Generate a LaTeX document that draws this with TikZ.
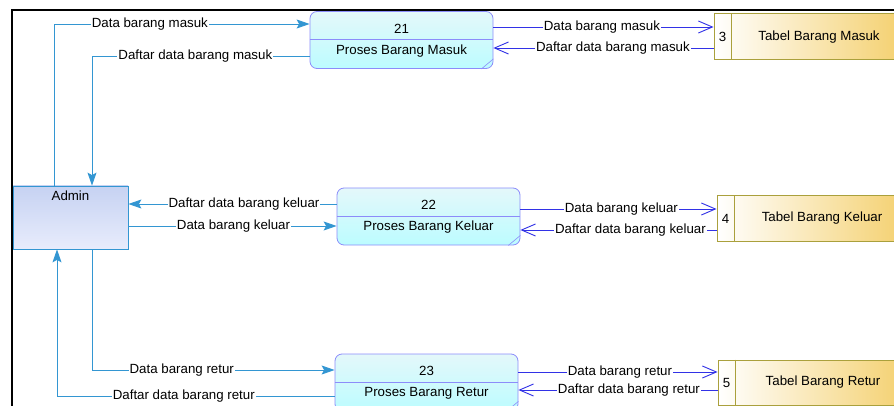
\documentclass[tikz,border=0pt]{standalone}
\usepackage{fontspec}
\setmainfont{Liberation Sans}
\usetikzlibrary{arrows.meta,calc}

\definecolor{admline}{RGB}{51,150,210}
\definecolor{admtop}{RGB}{198,210,242}
\definecolor{admbot}{RGB}{232,236,252}
\definecolor{procline}{RGB}{140,140,250}
\definecolor{proctop}{RGB}{228,248,250}
\definecolor{procbot}{RGB}{188,252,255}
\definecolor{storeline}{RGB}{170,160,60}
\definecolor{storegold}{RGB}{244,208,110}
\definecolor{storemid}{RGB}{250,232,180}
\definecolor{dsline}{RGB}{50,50,230}

\begin{document}
\begin{tikzpicture}[x=1pt,y=-1pt,
    font=\fontsize{13.3}{15}\selectfont,
    proc/.style={draw=procline,line width=0.8pt,rounded corners=7pt,
      minimum width=183pt,minimum height=57pt,top color=proctop,bottom color=procbot},
    store/.style={draw=storeline,line width=1pt,minimum width=190pt,minimum height=46pt,
      left color=white,middle color=storemid,right color=storegold},
    ent/.style={draw=admline,line width=0.8pt,minimum width=115pt,minimum height=63pt,
      top color=admtop,bottom color=admbot},
    lbl/.style={fill=white,inner sep=1pt},
    aflow/.style={draw=admline,line width=0.9pt,-{Stealth[length=13pt,width=9pt,inset=2.5pt]}},
    dflow/.style={draw=dsline,line width=0.9pt,-{Straight Barb[length=14pt,width=12pt]}}]
  \useasboundingbox (0,0) rectangle (894,406);
  \clip (0,0) rectangle (894,406);

  \draw[line width=1.5pt] (894,10) -- (12,10) -- (12,406);

  % external entity
  \node[ent] (admin) at (70.5,217.5) {};
  \node (admt) at ($(admin.north)+(0,10)$) {Admin};

  % processes
  \node[proc] (p1) at (401.5,40) {};
  \node[proc] (p2) at (428.5,216.5) {};
  \node[proc] (p3) at (426.5,382.5) {};
  \foreach \p/\n/\t in {p1/21/Masuk,p2/22/Keluar,p3/23/Retur}{
    \draw[procline,line width=0.8pt] ($(\p.north west)+(0,28.5)$) -- ($(\p.north east)+(0,28.5)$);
    \draw[procline,line width=0.6pt] ($(\p.south east)+(-12,0)$) -- ($(\p.south east)+(0,-10)$);
    \node (\p n) at ($(\p.north)+(0,17.5)$) {\n};
    \node (\p t) at ($(\p.north)+(0,39.5)$) {Proses Barang \t};
  }

  % data stores
  \node[store] (t1) at (809,37) {};
  \node[store,minimum height=45pt] (t2) at (812,218.5) {};
  \node[store,minimum height=45pt] (t3) at (813,382.5) {};
  \foreach \s/\n/\t in {t1/3/Masuk,t2/4/Keluar,t3/5/Retur}{
    \draw[storeline,line width=1pt] ($(\s.north west)+(18,0)$) -- ($(\s.south west)+(18,0)$);
    \node (\s n) at ($(\s.west)+(9,0)$) {\n};
    \node (\s t) at ($(\s.west)+(105.5,0)$) {Tabel Barang \t};
  }

  % admin <-> processes
  \draw[aflow] (54,0 |- admin.north) |- node[lbl,pos=0.6875] {Data barang masuk} (p1.west |- 0,24);
  \draw[aflow] (p1.west |- 0,56) -| node[lbl,pos=0.2626] {Daftar data barang masuk} (92,0 |- admin.north);
  \draw[aflow] (p2.west |- 0,204) -- node[lbl,pos=0.445] {Daftar data barang keluar} (admin.east |- 0,204);
  \draw[aflow] (admin.east |- 0,226) -- node[lbl,pos=0.505] {Data barang keluar} (p2.west |- 0,226);
  \draw[aflow] (92,0 |- admin.south) |- node[lbl,pos=0.685] {Data barang retur} (p3.west |- 0,370);
  \draw[aflow] (p3.west |- 0,396) -| node[lbl,pos=0.2716] {Daftar data barang retur} (57,0 |- admin.south);

  % processes <-> stores
  \draw[dflow] (p1.east |- 0,27) -- node[lbl,pos=0.493] {Data barang masuk} (t1.west |- 0,27);
  \draw[dflow] (t1.west |- 0,48) -- node[lbl,pos=0.457] {Daftar data barang masuk} (p1.east |- 0,48);
  \draw[dflow] (p2.east |- 0,209) -- node[lbl,pos=0.515] {Data barang keluar} (t2.west |- 0,209);
  \draw[dflow] (t2.west |- 0,230) -- node[lbl,pos=0.439] {Daftar data barang keluar} (p2.east |- 0,230);
  \draw[dflow] (p3.east |- 0,372) -- node[lbl,pos=0.51] {Data barang retur} (t3.west |- 0,372);
  \draw[dflow] (t3.west |- 0,390) -- node[lbl,pos=0.445] {Daftar data barang retur} (p3.east |- 0,390);
\end{tikzpicture}
\end{document}
